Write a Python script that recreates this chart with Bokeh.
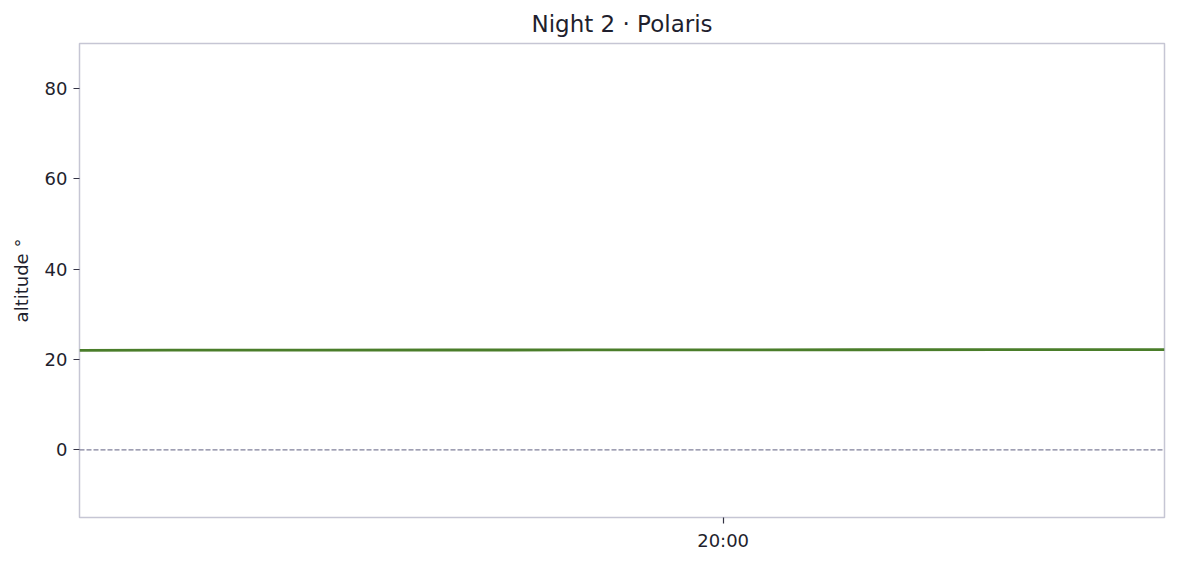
import datetime as dt
from bokeh.plotting import figure
from bokeh.models import Range1d, FixedTicker, DatetimeTickFormatter, Span
from bokeh.embed import file_html
from bokeh.resources import INLINE

# data
times = ["17:40", "18:00", "18:30", "19:00", "19:30", "20:00", "20:30", "21:00", "21:36"]
altitude = [22.04, 22.06, 22.08, 22.10, 22.12, 22.14, 22.16, 22.18, 22.20]
title_text = "Night 2 · Polaris"
y_label = "altitude °"
y_ticks = [0, 20, 40, 60, 80]
x_tick_labels = ["20:00"]

base = dt.datetime(2024, 1, 2)
def t(s):
    h, m = map(int, s.split(":"))
    return base + dt.timedelta(hours=h, minutes=m)

xs = [t(s) for s in times]

p = figure(width=1169, height=556, x_axis_type="datetime", output_backend="svg",
           toolbar_location=None, title=title_text,
           x_range=Range1d(xs[0], xs[-1]), y_range=Range1d(-15, 90),
           min_border_left=79, min_border_right=5, min_border_top=43, min_border_bottom=39)

p.title.align = "center"
p.title.text_font = "DejaVu Sans"
p.title.text_font_size = "23px"
p.title.text_font_style = "normal"
p.title.text_color = "#1f1f2e"
p.title.standoff = 13

p.outline_line_color = "#c6c6d4"
p.outline_line_width = 1.5
p.xgrid.visible = False
p.ygrid.visible = False

for ax in (p.xaxis[0], p.yaxis[0]):
    ax.axis_line_color = None
    ax.major_tick_line_color = "#333344"
    ax.major_tick_line_width = 1.2
    ax.major_tick_out = 6
    ax.major_tick_in = 0
    ax.minor_tick_line_color = None
    ax.major_label_text_font = "DejaVu Sans"
    ax.major_label_text_font_size = "18px"
    ax.major_label_text_color = "#1f1f2e"
    ax.major_label_standoff = 6

p.yaxis.ticker = FixedTicker(ticks=y_ticks)
p.yaxis.axis_label = y_label
p.yaxis.axis_label_text_font = "DejaVu Sans"
p.yaxis.axis_label_text_font_size = "18px"
p.yaxis.axis_label_text_font_style = "normal"
p.yaxis.axis_label_text_color = "#1f1f2e"
p.yaxis.axis_label_standoff = 10

epoch = dt.datetime(1970, 1, 1)
tick_ms = [(t(s) - epoch).total_seconds() * 1000 for s in x_tick_labels]
p.xaxis.ticker = FixedTicker(ticks=tick_ms)
fmt = "%H:%M"
p.xaxis.formatter = DatetimeTickFormatter(
    microseconds=fmt, milliseconds=fmt, seconds=fmt, minsec=fmt, minutes=fmt,
    hourmin=fmt, hours=fmt, days=fmt, months=fmt, years=fmt)

p.add_layout(Span(location=0, dimension="width", line_color="#80809a",
                  line_width=1.3, line_dash="5 2"))
p.line(xs, altitude, line_color="#4a7d2a", line_width=2.8)

open("out.html", "w").write(file_html(p, INLINE))
